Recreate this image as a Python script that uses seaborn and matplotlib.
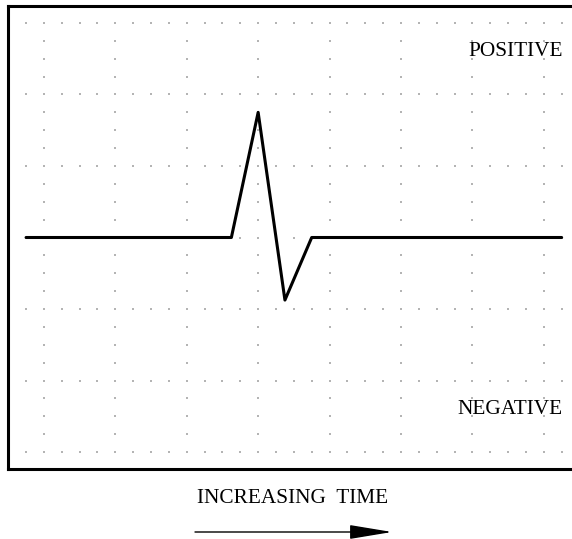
import numpy as np
import pandas as pd
import matplotlib
matplotlib.use("Agg")
import matplotlib.pyplot as plt
import seaborn as sns

# signal trace, x in minor grid units, y in minor grid units
time_pts = [0, 11.5, 13, 14.5, 16, 30]
level_pts = [0, 0, 7, -3.5, 0, 0]

label_pos = "POSITIVE"
label_neg = "NEGATIVE"
label_time = "INCREASING  TIME"

sns.set_style("white")
plt.rcParams['font.family'] = ['Liberation Serif', 'DejaVu Serif']

fig = plt.figure(figsize=(5.72, 5.39), dpi=100)
W, H = 572.0, 539.0
# frame: left at 7.5 px, top 6 px, bottom 469 px, right runs off the picture
left_px, top_px, bot_px, right_px = 7.5, 6.0, 469.0, 579.5
ax = fig.add_axes([left_px / W, 1 - bot_px / H, (right_px - left_px) / W, (bot_px - top_px) / H])
ax.set_xlim(-1.04, 31.0)
ax.set_ylim(-12.95, 12.95)

# dotted grid (every minor unit along the major lines)
gx, gy = [], []
for yy in range(-12, 13, 4):
    for xx in range(0, 31):
        gx.append(xx); gy.append(yy)
for xx in range(1, 30, 4):
    for yy in range(-12, 13):
        gx.append(xx); gy.append(yy)
ax.scatter(gx, gy, s=0.9, marker='s', color='#b4b4b4', linewidths=0, zorder=1)

df = pd.DataFrame({"t": time_pts, "v": level_pts})
sns.lineplot(data=df, x="t", y="v", ax=ax, color="black", lw=2.2, sort=False,
             estimator=None, zorder=3)

ax.set_xticks([]); ax.set_yticks([])
ax.set_xlabel(""); ax.set_ylabel("")
for s in ax.spines.values():
    s.set_visible(True)
    s.set_color("black")
    s.set_linewidth(2.2)

ax.text(30.05, 10.4, label_pos, ha="right", va="center", fontsize=15.3, color="black")
ax.text(30.05, -9.6, label_neg, ha="right", va="center", fontsize=15.3, color="black")

fig.text(293 / W, 1 - 498.5 / H, label_time, ha="center", va="center", fontsize=15.3, color="black")

ax.annotate("", xy=(392 / W, 1 - 532 / H), xytext=(195 / W, 1 - 532 / H),
            xycoords="figure fraction", textcoords="figure fraction",
            arrowprops=dict(arrowstyle="-|>,head_length=1.33,head_width=0.22",
                            mutation_scale=20, lw=1.0, color="black",
                            shrinkA=0, shrinkB=0),
            annotation_clip=False)

fig.savefig("out.png", dpi=100)
